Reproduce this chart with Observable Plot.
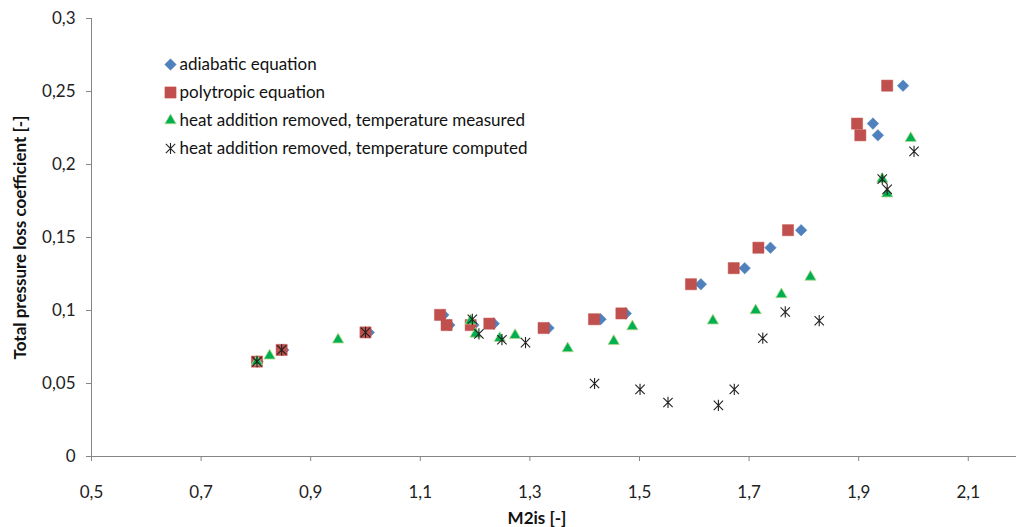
<!DOCTYPE html>
<html>
<head>
<meta charset="utf-8">
<script src="https://cdn.jsdelivr.net/npm/d3@7"></script>
<script src="https://cdn.jsdelivr.net/npm/@observablehq/plot@0.6"></script>
<style>
  html, body { margin: 0; padding: 0; background: #fff; }
  #chart svg { display: block; }
</style>
</head>
<body>
<div id="chart"></div>
<script>
// ---- data ----
const seriesNames = [
  "adiabatic equation",
  "polytropic equation",
  "heat addition removed, temperature measured",
  "heat addition removed, temperature computed"
];
const adiabaticX = [0.803, 0.850, 1.006, 1.142, 1.153, 1.197, 1.234, 1.334, 1.429, 1.475, 1.612, 1.692, 1.739, 1.795, 1.926, 1.935, 1.981];
const adiabaticY = [0.065, 0.073, 0.085, 0.097, 0.090, 0.090, 0.091, 0.088, 0.094, 0.098, 0.118, 0.129, 0.143, 0.155, 0.228, 0.220, 0.254];
const polytropicX = [0.802, 0.847, 1.000, 1.136, 1.148, 1.192, 1.226, 1.325, 1.417, 1.467, 1.594, 1.672, 1.717, 1.771, 1.897, 1.903, 1.952];
const polytropicY = [0.065, 0.073, 0.085, 0.097, 0.090, 0.090, 0.091, 0.088, 0.094, 0.098, 0.118, 0.129, 0.143, 0.155, 0.228, 0.220, 0.254];
const measuredX = [0.802, 0.825, 0.950, 1.192, 1.201, 1.245, 1.273, 1.369, 1.453, 1.487, 1.634, 1.712, 1.759, 1.812, 1.943, 1.952, 1.995];
const measuredY = [0.065, 0.069, 0.080, 0.093, 0.084, 0.081, 0.083, 0.074, 0.079, 0.089, 0.093, 0.100, 0.111, 0.123, 0.190, 0.180, 0.218];
const computedX = [0.802, 0.847, 1.000, 1.195, 1.207, 1.249, 1.292, 1.418, 1.501, 1.552, 1.644, 1.673, 1.725, 1.766, 1.828, 1.943, 1.952, 2.001];
const computedY = [0.065, 0.073, 0.085, 0.094, 0.084, 0.080, 0.078, 0.050, 0.046, 0.037, 0.035, 0.046, 0.081, 0.099, 0.093, 0.190, 0.183, 0.209];
const xTicks = [0.5, 0.7, 0.9, 1.1, 1.3, 1.5, 1.7, 1.9, 2.1];
const yTicks = [0, 0.05, 0.1, 0.15, 0.2, 0.25, 0.3];
const xDomain = [0.5, 2.188];
const yDomain = [0, 0.3];
const xTitle = "M2is [-]";
const yTitle = "Total pressure loss coefficient [-]";

// ---- helpers ----
const zip = (xs, ys) => xs.map((x, i) => ({x, y: ys[i]}));
const fmt = d => String(d).replace(".", ",");
const FONT = "Lato, 'Open Sans', sans-serif";
const AXIS_GRAY = "#868686";
const FS = 17;

// asterisk marker (vertical line plus X)
const asterisk = {
  draw(context, size) {
    const h = Math.sqrt(size / Math.PI);
    const d = h * 0.9;
    context.moveTo(0, -h * 1.08); context.lineTo(0, h * 1.08);
    context.moveTo(-d, -d); context.lineTo(d, d);
    context.moveTo(-d, d); context.lineTo(d, -d);
  }
};

const styles = [
  {symbol: "diamond2", fill: "#4F81BD", stroke: "#4F81BD", r: 5.2, strokeWidth: 0.5},
  {symbol: "square", fill: "#C0504D", stroke: "#C0504D", r: 6.3, strokeWidth: 0.5},
  {symbol: "triangle", fill: "#00B050", stroke: "#B5D88A", r: 4.2, strokeWidth: 0.8},
  {symbol: asterisk, fill: "none", stroke: "#222", r: 5.2, strokeWidth: 1.1}
];
const datasets = [
  zip(adiabaticX, adiabaticY),
  zip(polytropicX, polytropicY),
  zip(measuredX, measuredY),
  zip(computedX, computedY)
];

const legendRows = seriesNames.map((name, i) => ({name, i}));

const chart = Plot.plot({
  width: 1016,
  height: 527,
  marginLeft: 91,
  marginRight: 0,
  marginTop: 18,
  marginBottom: 71,
  style: {fontFamily: FONT, fontSize: FS + "px", background: "#fff", overflow: "visible"},
  x: {domain: xDomain, ticks: xTicks},
  y: {domain: yDomain, ticks: yTicks},
  marks: [
    Plot.ruleY([yDomain[0]], {stroke: AXIS_GRAY, strokeWidth: 1}),
    Plot.ruleX([xDomain[0]], {stroke: AXIS_GRAY, strokeWidth: 1}),
    Plot.axisX(xTicks, {anchor: "bottom", tickSize: 5, tickPadding: 24, tickFormat: fmt, stroke: AXIS_GRAY, fill: "#222", fontSize: FS, label: null}),
    Plot.axisY(yTicks, {anchor: "left", tickSize: 5, tickPadding: 11, tickFormat: fmt, stroke: AXIS_GRAY, fill: "#222", fontSize: FS, label: null}),
    ...datasets.map((data, i) => Plot.dot(data, {x: "x", y: "y", ...styles[i]})),
    // legend inside the plot area
    ...legendRows.map(row => Plot.dot([row], {
      frameAnchor: "top-left", dx: 79, dy: 46 + row.i * 28, ...styles[row.i]
    })),
    ...legendRows.map(row => Plot.text([row], {
      frameAnchor: "top-left", dx: 88, dy: 46 + row.i * 28, text: "name",
      textAnchor: "start", lineAnchor: "middle", fontSize: FS, fill: "#111"
    })),
    Plot.text([xTitle], {frameAnchor: "bottom", dx: -17, dy: 62, lineAnchor: "middle", textAnchor: "middle", fontWeight: "bold", fontSize: FS, fill: "#111"}),
    Plot.text([yTitle], {frameAnchor: "left", dx: -71, rotate: -90, lineAnchor: "middle", textAnchor: "middle", fontWeight: "bold", fontSize: FS, fill: "#111"})
  ]
});
document.getElementById("chart").appendChild(chart);
</script>
</body>
</html>
